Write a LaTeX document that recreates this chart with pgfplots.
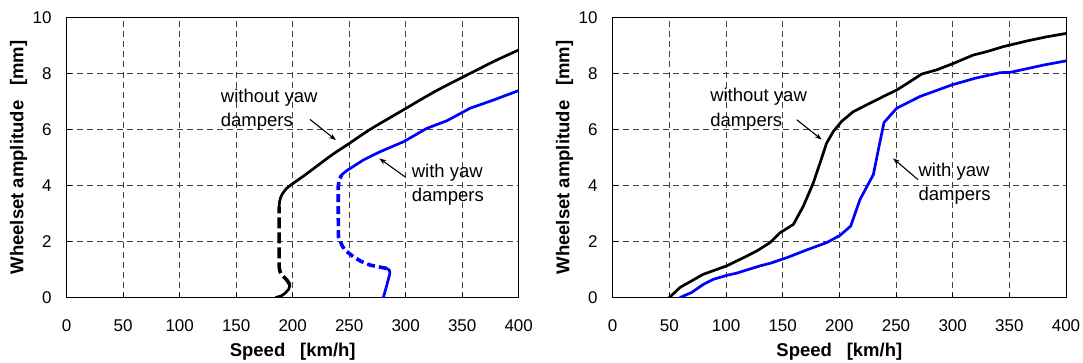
\documentclass[border=0pt]{standalone}
\usepackage{pgfplots}
\pgfplotsset{compat=1.18}
\usepackage{fontspec}
\setmainfont{Liberation Sans}
\usetikzlibrary{arrows.meta}
\tikzset{
  sol/.style={line width=2.7pt, line join=round, line cap=round},
  dsh/.style={line width=3.6pt, line join=round, dash pattern=on 11pt off 4pt},
  lab/.style={anchor=west, inner sep=0pt, font=\fontsize{18.5}{22}\selectfont},
  arr/.style={-{Stealth[length=7pt,width=5pt]}, line width=1.1pt},
}
\pgfplotsset{
  common/.style={
    scale only axis, width=#1, height=280pt, anchor=south west,
    xmin=0, xmax=400, ymin=0, ymax=10,
    xtick={0,50,...,400}, ytick={0,2,...,10},
    xtick pos=bottom, ytick pos=left, tick align=inside,
    major tick length=5pt,
    every tick/.style={black, line width=0.8pt},
    axis line style={line width=0.9pt},
    grid=major,
    major grid style={black!75, line width=0.7pt, dash pattern=on 6pt off 4pt},
    /pgf/number format/assume math mode=true,
    tick label style={font=\fontsize{17}{20}\selectfont, inner sep=0pt},
    xticklabel style={anchor=center, yshift=-28pt},
    yticklabel style={anchor=east, xshift=-15pt},
    label style={font=\fontsize{18.5}{22}\selectfont\bfseries},
    xlabel={Speed\hspace{0.8em}[km/h]},
    ylabel={Wheelset amplitude\hspace{0.8em}[mm]},
    xlabel style={at={(axis description cs:0.5,-0.1936)}, anchor=center},
  },
}
\begin{document}
\begin{tikzpicture}[x=1pt,y=1pt]
\useasboundingbox (0,0) rectangle (1083,362);
% ---------- left ----------
\begin{axis}[common=452pt, at={(66.7pt,64.5pt)},
  ylabel style={at={(axis description cs:-0.1066,0.5)}, anchor=center}]
\addplot[sol, black] coordinates {(185,0) (190,0.06) (193.2,0.15) (196.5,0.3) (197.6,0.45)};
\addplot[dsh, black] coordinates {(197.6,0.45) (194.7,0.63) (190.5,0.8) (188.8,0.92) (188,1.1) (188,2) (188,3.24)};
\addplot[sol, black, smooth] coordinates {(188,3.24) (188.5,3.45) (190.3,3.66) (194.7,3.9) (200.5,4.08) (210,4.35) (220,4.65) (235,5.1) (250,5.5) (268.4,6.0) (297.9,6.70) (327.4,7.39) (359.8,8.06) (380.5,8.48) (400,8.84)};
\addplot[sol, blue] coordinates {(280.2,0) (283,0.4) (286,0.86) (285.5,0.98) (283.2,1.04)};
\addplot[dsh, blue, dash pattern=on 8pt off 4pt] coordinates {(283.2,1.04) (275,1.1) (268.4,1.16) (260,1.3) (253.6,1.46) (246,1.7) (243.4,1.88) (240.5,2.17) (240.3,3) (240.3,3.96) (241,4.2) (243.4,4.38)};
\addplot[sol, blue] coordinates {(243.4,4.38) (244.8,4.43) (247.8,4.53) (262.5,4.91) (277,5.2) (297.9,5.56) (318.6,6.04) (336.3,6.31) (357,6.76) (377.5,7.05) (400,7.39)};
\node[lab] at (axis cs:136.3,7.125) {without yaw};
\node[lab] at (axis cs:136.3,6.28) {dampers};
\draw[arr] (axis cs:215.3,6.36) -- (axis cs:238.3,5.62);
\node[lab] at (axis cs:305.3,4.46) {with yaw};
\node[lab] at (axis cs:305.3,3.6) {dampers};
\draw[arr] (axis cs:299.4,4.31) -- (axis cs:276.6,4.97);
\end{axis}
% ---------- right ----------
\begin{axis}[common=453.3pt, at={(612.7pt,64.5pt)},
  ylabel style={at={(axis description cs:-0.1063,0.5)}, anchor=center}]
\addplot[sol, black] coordinates {(50,0) (59.4,0.36) (80,0.83) (100.6,1.13) (115.3,1.42) (127,1.66) (138.8,1.96) (147.6,2.31) (159.4,2.61) (168.2,3.26) (177,4.09) (182.9,4.80) (188.8,5.52) (194.7,5.93) (202,6.29) (212.4,6.64) (221.2,6.82) (238.8,7.18) (250.6,7.41) (262.4,7.71) (272.6,7.98) (285.9,8.13) (300.6,8.36) (318.2,8.66) (330,8.78) (344.7,8.96) (365.3,9.16) (382.9,9.31) (400,9.43)};
\addplot[sol, blue] coordinates {(59.4,0) (69.7,0.18) (80,0.47) (88.8,0.65) (100.6,0.79) (109.4,0.87) (130,1.13) (138.8,1.22) (153.5,1.42) (171.2,1.70) (188.8,1.96) (200.6,2.22) (210,2.55) (218.2,3.50) (230,4.39) (234.4,5.28) (239.4,6.25) (250.6,6.76) (271.2,7.18) (299.1,7.59) (319.7,7.83) (341.8,8.03) (350.6,8.04) (380,8.30) (400,8.45)};
\node[lab] at (axis cs:85.9,7.16) {without yaw};
\node[lab] at (axis cs:85.9,6.27) {dampers};
\draw[arr] (axis cs:162.4,6.35) -- (axis cs:184.4,5.64);
\node[lab] at (axis cs:269.7,4.5) {with yaw};
\node[lab] at (axis cs:269.7,3.62) {dampers};
\draw[arr] (axis cs:269.4,4.21) -- (axis cs:247.4,4.97);
\end{axis}
\end{tikzpicture}
\end{document}
